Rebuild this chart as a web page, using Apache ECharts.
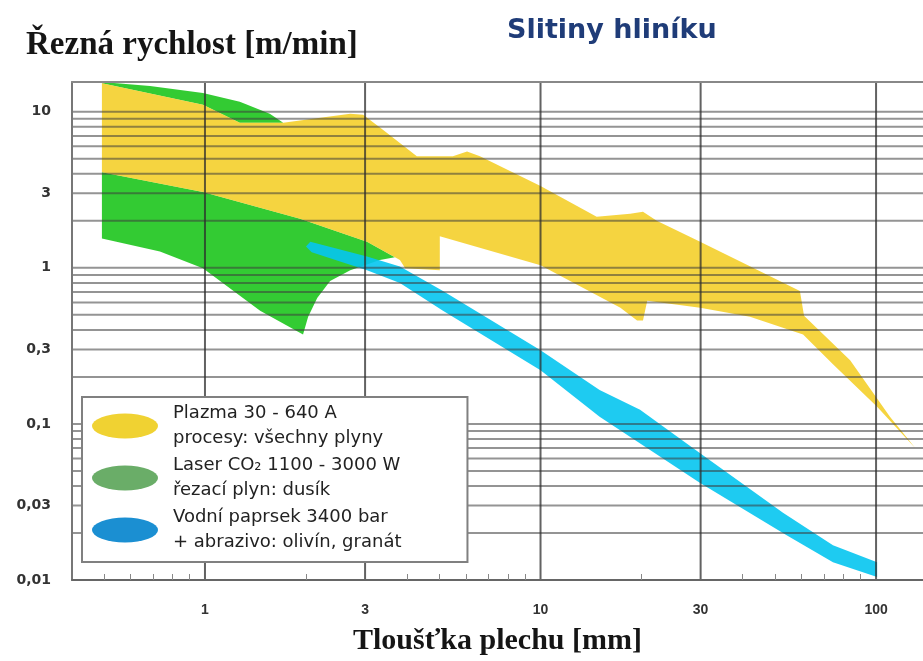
<!DOCTYPE html>
<html><head><meta charset="utf-8">
<script src="https://cdn.jsdelivr.net/npm/echarts@6/dist/echarts.min.js"></script>
<style>html,body{margin:0;padding:0;background:#fff}#c{width:923px;height:661px}</style>
</head><body><div id="c"></div>
<script>
// ---- axis values ----
const xLabelValues = [1, 3, 10, 30, 100];
const xMinorTicks = [0.5, 0.6, 0.7, 0.8, 0.9, 2, 4, 5, 6, 7, 8, 9, 20, 40, 50, 60, 70, 80, 90];
const yLabelValues = [0.01, 0.03, 0.1, 0.3, 1, 3, 10];
const yGridValues = [0.02, 0.03, 0.04, 0.05, 0.06, 0.07, 0.08, 0.09,
                     0.1, 0.2, 0.3, 0.4, 0.5, 0.6, 0.7, 0.8, 0.9,
                     1, 2, 3, 4, 5, 6, 7, 8, 9, 10];

// ---- legend ----
const seriesNames = ['Plazma', 'Laser', 'Vodní paprsek'];
const legendTexts = [
  'Plazma 30 - 640 A\nprocesy: všechny plyny',
  'Laser CO₂ 1100 - 3000 W\nřezací plyn: dusík',
  'Vodní paprsek 3400 bar\n+ abrazivo: olivín, granát'
];

// ---- band outlines [thickness mm, speed m/min] ----
// laser: the two parts left visible around the plasma band
const laserUpperPart = [
  [0.493, 15.5], [0.686, 14.6], [0.986, 13.2], [1.27, 11.6], [1.56, 9.70], [1.71, 8.51],
  [1.27, 8.51], [0.986, 11.1], [0.493, 15.2]
];
const laserLowerPart = [
  [0.493, 4.10], [0.986, 3.06], [1.92, 2.06], [3.04, 1.47], [3.68, 1.17],
  [3.32, 1.12], [2.71, 0.966], [2.36, 0.822], [2.16, 0.641], [2.03, 0.485], [1.96, 0.374],
  [1.46, 0.531], [0.986, 0.994], [0.734, 1.27], [0.493, 1.54]
];
const plasmaOutline = [
  [0.493, 15.2], [0.986, 11.1], [1.27, 8.51], [1.71, 8.51], [2.71, 9.70], [2.96, 9.56],
  [3.39, 7.67], [4.28, 5.18], [5.48, 5.18], [6.04, 5.57], [6.60, 5.18], [10, 3.34],
  [14.7, 2.12], [18.5, 2.22], [20.2, 2.29], [22.2, 2.00], [29.9, 1.47], [45.1, 0.951],
  [59.3, 0.711], [61.0, 0.493], [83.7, 0.256], [110, 0.111], [131, 0.0697],
  [100.7, 0.129], [74.4, 0.241], [60.6, 0.374], [42.1, 0.485], [29.9, 0.554],
  [20.8, 0.614], [20.2, 0.459], [19.4, 0.459], [17.3, 0.554], [10, 1.04],
  [5.01, 1.59], [5.01, 0.966], [3.95, 0.994], [3.81, 1.12], [3.04, 1.47],
  [1.92, 2.06], [0.986, 3.06], [0.493, 4.10]
];
const waterOutline = [
  [2.06, 1.47], [3.04, 1.18], [3.81, 1.02], [5.12, 0.711], [10, 0.296], [15.0, 0.165],
  [19.8, 0.123], [29.9, 0.0648], [52.8, 0.0270], [74.4, 0.0167], [100.7, 0.0130],
  [100.7, 0.01045], [74.4, 0.0130], [54.3, 0.0193], [29.9, 0.0418], [15.0, 0.111],
  [10, 0.221], [5.12, 0.531], [3.81, 0.798], [3.04, 0.966], [2.08, 1.26], [2.0, 1.37]
];

// slightly translucent fills so the grid lines show through the bands, as in the scan
const bandColors = {laser: 'rgba(0,190,0,0.8)', plasma: 'rgba(242,198,0,0.75)', water: 'rgba(5,197,240,0.9)'};
const legendIconColors = ['#f0d232', '#6aad68', '#1b8fd2'];

const X_MIN = 0.4015, X_MAX = 138, Y_MIN = 0.01, Y_MAX = 15.5;

function legendSeries(name) {
  return {type: 'custom', name: name, data: [], renderItem: () => null};
}

const drawSeries = {
  type: 'custom', name: '_draw', z: 2, silent: true,
  xAxisIndex: 0, yAxisIndex: 0,
  data: [[1, 1]],
  encode: {x: 0, y: 1},
  renderItem: function (params, api) {
    const cs = params.coordSys;
    const children = [];
    [[laserUpperPart, bandColors.laser], [laserLowerPart, bandColors.laser],
     [plasmaOutline, bandColors.plasma], [waterOutline, bandColors.water]]
      .forEach((b, i) => {
        children.push({type: 'polygon', z2: i + 1,
          shape: {points: b[0].map(p => api.coord(p))},
          style: {fill: b[1]}});
      });
    const x0 = cs.x, x1 = cs.x + cs.width, y0 = cs.y, y1 = cs.y + cs.height;
    yGridValues.forEach(v => {
      const y = api.coord([1, v])[1];
      children.push({type: 'polygon', z2: 20,
        shape: {points: [[x0, y - 1], [x1, y - 1], [x1, y + 1], [x0, y + 1]]},
        style: {fill: 'rgba(60,60,60,0.55)'}});
    });
    xLabelValues.forEach(v => {
      const x = api.coord([v, 1])[0];
      children.push({type: 'polygon', z2: 21,
        shape: {points: [[x - 1, y0], [x + 1, y0], [x + 1, y1], [x - 1, y1]]},
        style: {fill: 'rgba(45,45,45,0.75)'}});
    });
    return {type: 'group', children: children};
  }
};

const ellipse = 'path://M0,50 A132,50 0 1,1 264,50 A132,50 0 1,1 0,50 Z';
const fmt = v => String(parseFloat(Number(v).toPrecision(3))).replace('.', ',');
const legendFmt = name => legendTexts[seriesNames.indexOf(name)].split('\n').map(s => '{t|' + s + '}').join('\n');

const chart = echarts.init(document.getElementById('c'), null, {renderer: 'canvas'});
chart.setOption({
  animation: false,
  backgroundColor: '#fff',
  title: [
    {text: 'Řezná rychlost [m/min]', left: 21, top: 24,
     textStyle: {fontFamily: 'Liberation Serif', fontWeight: 'bold', fontSize: 33, color: '#151515'}},
    {text: 'Slitiny hliníku', left: 502, top: 12,
     textStyle: {fontFamily: 'DejaVu Sans', fontWeight: 'bold', fontSize: 27, color: '#1f3c78'}}
  ],
  grid: {left: 72, right: 0, top: 82, bottom: 76, show: true, borderWidth: 0, backgroundColor: '#fff'},
  legend: {
    orient: 'vertical', left: 82, top: 397, z: 10, zlevel: 2,
    padding: [4, 66, 7, 10], itemGap: 2, itemWidth: 66, itemHeight: 25,
    backgroundColor: '#fff', borderColor: '#808080', borderWidth: 2,
    data: seriesNames.map((n, i) => ({name: n, icon: ellipse, itemStyle: {color: legendIconColors[i]}})),
    formatter: legendFmt,
    textStyle: {
      fontFamily: 'DejaVu Sans', fontSize: 18, lineHeight: 25, color: '#222',
      rich: {t: {fontFamily: 'DejaVu Sans', fontSize: 18, lineHeight: 25, color: '#222', padding: [0, 0, 0, 10]}}
    }
  },
  xAxis: [
    {type: 'log', min: X_MIN, max: X_MAX, z: 6,
     name: 'Tloušťka plechu [mm]', nameLocation: 'middle', nameGap: 46,
     nameTextStyle: {fontFamily: 'Liberation Serif', fontWeight: 'bold', fontSize: 30, color: '#151515'},
     axisLine: {show: true, lineStyle: {color: '#666', width: 2}},
     axisTick: {show: false, customValues: xLabelValues},
     axisLabel: {customValues: xLabelValues, margin: 23, fontFamily: 'Liberation Sans', fontWeight: 'bold', fontSize: 14, color: '#333'},
     splitLine: {show: false}},
    {type: 'log', min: X_MIN, max: X_MAX, position: 'bottom', z: 6,
     axisLine: {show: false},
     axisTick: {show: true, inside: true, length: 6, customValues: xMinorTicks, lineStyle: {color: '#888', width: 1}},
     axisLabel: {show: false},
     splitLine: {show: false}},
    {type: 'log', min: X_MIN, max: X_MAX, position: 'top', z: 6,
     axisLine: {show: true, lineStyle: {color: '#888', width: 2}},
     axisTick: {show: false}, axisLabel: {show: false}, splitLine: {show: false}}
  ],
  yAxis: [
    {type: 'log', min: Y_MIN, max: Y_MAX, z: 6,
     axisLine: {show: true, lineStyle: {color: '#777', width: 2}},
     axisTick: {show: false, customValues: yLabelValues},
     axisLabel: {customValues: yLabelValues, margin: 21, formatter: fmt,
                 fontFamily: 'DejaVu Sans', fontWeight: 'bold', fontSize: 14, color: '#333'},
     splitLine: {show: false}}
  ],
  series: [
    legendSeries(seriesNames[0]),
    legendSeries(seriesNames[1]),
    legendSeries(seriesNames[2]),
    drawSeries
  ]
});
</script></body></html>
